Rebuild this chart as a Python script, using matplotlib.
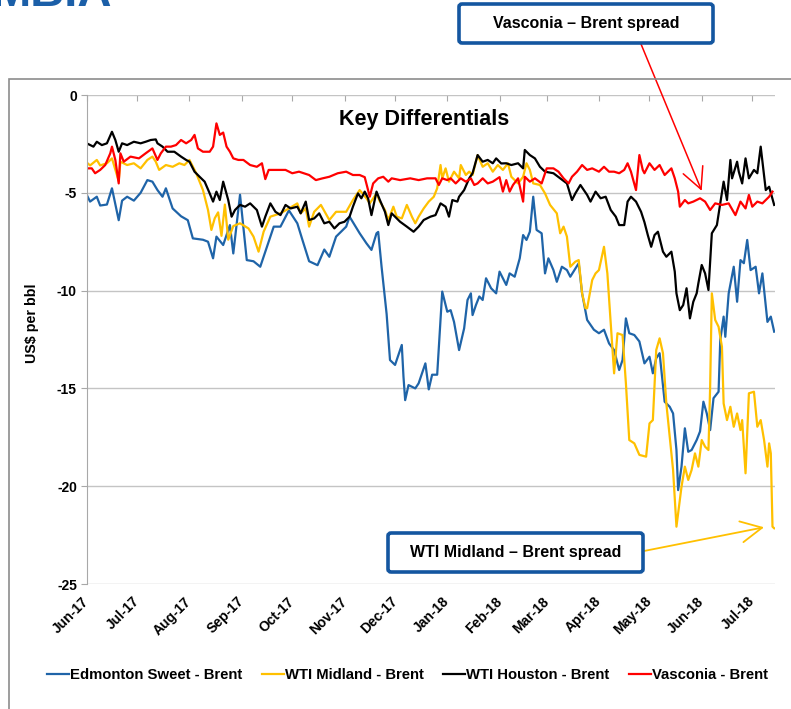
import matplotlib
matplotlib.use("Agg")
import matplotlib.pyplot as plt
import matplotlib.dates as mdates
from matplotlib.patches import Rectangle, FancyBboxPatch
import pandas as pd

plt.rcParams['font.family'] = ['Liberation Sans', 'DejaVu Sans']
plt.rcParams['axes.unicode_minus'] = False

# series as (days since 1 Jun 2017, US$/bbl)
start = pd.Timestamp('2017-06-01')

edm_days = [0, 2, 6, 8, 12, 15, 19, 21, 24, 28, 32, 36, 39, 42, 45, 47, 51, 56, 60, 63,
            69, 72, 75, 77, 81, 85, 87, 91, 95, 99, 103, 107, 111, 115, 120, 125, 128, 132,
            137, 141, 144, 148, 154, 156, 162, 166, 169, 172, 173, 175, 178, 180, 183, 187,
            188, 189, 191, 195, 197, 201, 203, 205, 208, 210, 211, 214, 216, 218, 221, 224,
            226, 228, 229, 231, 233, 235, 237, 240, 243, 245, 249, 251, 254, 257, 259, 261,
            263, 265, 267, 270, 272, 274, 277, 279, 282, 285, 287, 292, 294, 297, 301, 304,
            307, 310, 313, 316, 318, 320, 322, 325, 328, 331, 334, 336, 338, 340, 343, 346,
            348, 350, 351, 353, 355, 357, 359, 362, 364, 366, 368, 370, 372, 375, 376, 378,
            379, 381, 384, 386, 388, 390, 392, 394, 397, 399, 401, 404, 406, 408]
edm_vals = [-5.1, -5.45, -5.2, -5.65, -5.6, -4.77, -6.4, -5.4, -5.2, -5.4, -5.0, -4.35, -4.43,
            -4.86, -5.2, -4.77, -5.8, -6.2, -6.4, -7.33, -7.4, -7.5, -8.35, -7.24, -7.67, -6.65,
            -8.1, -5.1, -8.44, -8.5, -8.78, -7.76, -6.73, -6.73, -5.9, -6.56, -7.4, -8.5, -8.7,
            -7.9, -8.27, -7.24, -6.73, -6.22, -7.07, -7.58, -7.92, -7.07, -7.0, -8.78, -11.2,
            -13.55, -13.8, -12.78, -14.4, -15.6, -14.83, -15.0, -14.74, -13.72, -15.05, -14.3,
            -14.3, -11.5, -10.05, -11.08, -11.0, -11.6, -13.04, -11.93, -10.48, -10.14, -11.25,
            -10.74, -10.3, -10.48, -9.37, -9.88, -10.14, -9.03, -9.71, -9.12, -9.29, -8.35,
            -7.16, -7.41, -6.99, -5.2, -6.9, -7.07, -9.12, -8.35, -8.95, -9.55, -8.78, -8.95,
            -9.29, -8.6, -10.14, -11.5, -12.0, -12.18, -12.0, -12.7, -13.04, -14.06, -13.55,
            -11.42, -12.18, -12.27, -12.6, -13.72, -13.38, -14.23, -13.46, -13.2, -15.68,
            -15.94, -16.28, -18.15, -20.2, -19.0, -17.04, -18.24, -18.15, -17.64, -17.2, -15.68,
            -16.28, -17.13, -15.5, -15.17, -12.53, -11.33, -12.36, -10.14, -8.78, -10.57, -8.44,
            -8.6, -7.41, -8.95, -8.78, -10.14, -9.12, -11.6, -11.33, -12.1]

mid_days = [0, 2, 6, 8, 12, 15, 19, 20, 24, 28, 32, 36, 39, 41, 43, 47, 51, 55, 58, 61, 65,
            69, 72, 74, 76, 78, 80, 82, 84, 87, 91, 96, 99, 102, 105, 109, 115, 120, 125, 127,
            130, 132, 135, 139, 144, 148, 154, 158, 162, 166, 168, 172, 174, 177, 179, 182, 184,
            187, 190, 193, 195, 197, 200, 203, 206, 208, 210, 211, 213, 215, 218, 221, 222, 225,
            227, 229, 232, 235, 238, 241, 244, 247, 250, 252, 256, 259, 261, 263, 265, 269, 272,
            275, 279, 281, 283, 285, 287, 290, 292, 294, 296, 297, 300, 302, 304, 307, 309, 311,
            313, 315, 318, 320, 322, 325, 328, 332, 334, 336, 338, 340, 342, 344, 346, 348, 350,
            353, 355, 357, 359, 361, 363, 365, 367, 369, 370, 371, 373, 375, 377, 378, 380, 382,
            384, 386, 388, 389, 391, 393, 396, 398, 400, 402, 404, 405, 406, 407, 408]
mid_vals = [-3.45, -3.6, -3.32, -3.6, -3.49, -3.24, -4.4, -3.41, -3.58, -3.49, -3.75, -3.32,
            -3.15, -3.41, -3.83, -3.58, -3.67, -3.49, -3.58, -3.32, -4.0, -4.86, -5.88, -6.9,
            -6.3, -6.0, -7.2, -5.6, -7.4, -6.7, -6.56, -6.82, -7.24, -8.01, -6.99, -6.22, -6.05,
            -5.8, -5.54, -6.05, -5.8, -6.73, -5.97, -5.62, -6.39, -5.97, -5.97, -5.37, -4.86,
            -5.28, -5.54, -5.03, -5.45, -5.88, -6.39, -5.71, -6.22, -6.31, -5.62, -6.22, -6.56,
            -6.22, -5.8, -5.45, -5.2, -4.77, -3.58, -4.26, -3.75, -4.43, -3.92, -4.26, -3.58,
            -4.09, -3.92, -4.09, -3.07, -3.67, -3.49, -3.92, -3.58, -3.83, -3.49, -4.18, -4.52,
            -4.18, -3.49, -3.83, -4.52, -4.6, -5.03, -5.62, -6.05, -7.07, -6.73, -7.24, -8.78,
            -8.52, -8.44, -10.14, -10.9, -10.9, -9.46, -9.12, -8.95, -7.76, -9.12, -11.67,
            -14.23, -12.18, -12.27, -14.74, -17.64, -17.81, -18.4, -18.49, -16.79, -16.62,
            -13.04, -12.44, -13.2, -15.77, -17.47, -19.17, -22.07, -20.03, -19.0, -19.68,
            -19.17, -18.32, -19.0, -17.64, -17.98, -18.15, -14.91, -10.14, -11.5, -11.85,
            -12.87, -15.77, -16.62, -15.94, -16.96, -16.28, -17.13, -16.62, -19.34, -15.25,
            -15.17, -16.96, -16.62, -17.64, -19.0, -17.81, -18.32, -22.07, -22.15]

hou_days = [0, 4, 6, 9, 12, 15, 17, 19, 21, 24, 28, 32, 35, 38, 41, 42, 45, 48, 52, 56, 59,
            61, 64, 67, 70, 73, 75, 77, 79, 81, 84, 86, 88, 91, 94, 97, 101, 104, 106, 109, 112,
            115, 118, 121, 125, 127, 130, 132, 135, 138, 141, 144, 147, 150, 153, 156, 158, 161,
            163, 165, 167, 169, 172, 174, 177, 179, 181, 183, 186, 190, 194, 197, 200, 204, 207,
            210, 213, 215, 217, 220, 221, 224, 227, 229, 232, 235, 238, 241, 243, 246, 249, 252,
            256, 259, 260, 263, 266, 269, 272, 277, 281, 285, 288, 290, 293, 297, 299, 302, 305,
            308, 311, 314, 316, 319, 321, 323, 326, 329, 331, 333, 335, 337, 339, 342, 344, 347,
            349, 350, 352, 354, 356, 358, 360, 362, 363, 365, 367, 369, 371, 374, 376, 378, 380,
            382, 383, 386, 387, 389, 391, 393, 396, 398, 400, 403, 405, 408]
hou_vals = [-2.47, -2.64, -2.39, -2.56, -2.47, -1.88, -2.3, -2.9, -2.47, -2.56, -2.39, -2.47,
            -2.39, -2.3, -2.27, -2.47, -2.64, -2.9, -2.9, -3.15, -3.32, -3.41, -3.92, -4.18,
            -4.43, -5.03, -5.45, -4.94, -5.37, -4.43, -5.37, -6.22, -5.88, -5.62, -5.71, -5.54,
            -5.88, -6.73, -6.22, -5.54, -5.97, -6.14, -5.62, -5.8, -5.71, -6.05, -5.45, -6.39,
            -6.31, -6.05, -6.56, -6.48, -6.82, -6.56, -6.48, -6.22, -5.71, -5.03, -5.28, -4.94,
            -5.28, -6.14, -4.94, -5.37, -5.97, -6.65, -6.05, -6.22, -6.48, -6.73, -6.99, -6.73,
            -6.39, -6.22, -6.14, -5.54, -5.71, -6.22, -5.37, -5.45, -5.2, -4.86, -4.26, -4.0,
            -3.07, -3.41, -3.32, -3.49, -3.24, -3.5, -3.49, -3.58, -3.49, -3.75, -2.81, -3.07,
            -3.24, -3.67, -3.92, -4.0, -4.26, -4.52, -5.37, -5.03, -4.6, -5.11, -5.45, -4.94,
            -5.28, -5.2, -5.88, -6.22, -6.65, -6.65, -5.45, -5.2, -5.45, -5.97, -6.5, -7.16,
            -7.76, -7.16, -6.99, -8.01, -8.27, -8.01, -9.03, -10.14, -11.0, -10.74, -9.88,
            -11.42, -10.57, -10.14, -9.63, -8.69, -9.12, -9.97, -7.07, -6.65, -5.54, -4.43,
            -5.37, -3.32, -4.26, -3.41, -3.92, -4.52, -3.24, -4.26, -3.83, -4.0, -2.64, -4.86,
            -4.69, -5.62]

vas_days = [0, 3, 5, 8, 11, 14, 15, 17, 19, 20, 22, 26, 31, 35, 39, 42, 44, 47, 50, 53, 56,
            59, 62, 64, 66, 69, 73, 75, 77, 79, 81, 83, 85, 87, 90, 93, 97, 101, 104, 106, 108,
            112, 118, 122, 126, 132, 136, 140, 144, 149, 154, 158, 162, 165, 168, 170, 173, 176,
            179, 181, 186, 192, 197, 202, 207, 209, 211, 214, 216, 219, 222, 225, 228, 230, 232,
            235, 238, 241, 245, 247, 249, 251, 253, 256, 259, 260, 263, 266, 270, 273, 277, 280,
            283, 286, 288, 291, 294, 297, 300, 304, 307, 310, 313, 316, 319, 321, 323, 326, 328,
            330, 331, 334, 337, 340, 343, 345, 347, 349, 351, 352, 355, 357, 360, 364, 367, 370,
            373, 377, 381, 385, 388, 391, 393, 395, 398, 401, 405, 407]
vas_vals = [-3.75, -3.75, -4.0, -3.83, -3.58, -2.98, -2.64, -3.32, -4.52, -2.98, -3.41, -3.15,
            -3.24, -2.98, -2.73, -3.32, -2.98, -2.64, -2.64, -2.56, -2.3, -2.47, -2.3, -2.04,
            -2.73, -2.9, -2.9, -2.64, -1.45, -2.04, -1.92, -2.64, -2.9, -3.24, -3.32, -3.32,
            -3.58, -3.67, -3.49, -4.3, -3.83, -3.83, -3.83, -4.0, -3.92, -4.09, -4.35, -4.26,
            -4.18, -4.0, -3.92, -4.09, -4.09, -4.2, -5.2, -4.52, -4.26, -4.18, -4.43, -4.26,
            -4.35, -4.26, -4.35, -4.26, -4.26, -4.6, -4.26, -4.35, -4.26, -4.52, -4.26, -4.43,
            -4.26, -4.6, -4.52, -4.26, -4.52, -4.43, -4.2, -4.94, -4.35, -4.94, -4.6, -4.26,
            -5.45, -4.18, -4.43, -4.26, -4.52, -3.75, -3.75, -3.92, -4.26, -4.52, -4.18, -3.92,
            -3.58, -3.83, -3.75, -3.92, -3.67, -3.92, -3.92, -4.0, -3.83, -3.49, -3.92, -4.86,
            -3.07, -3.83, -4.0, -3.49, -3.83, -3.58, -4.09, -3.92, -3.75, -4.26, -4.94, -5.71,
            -5.37, -5.54, -5.45, -5.28, -5.45, -5.88, -5.54, -5.62, -5.54, -6.14, -5.45, -5.8,
            -5.11, -5.71, -5.45, -5.54, -5.2, -4.94]

series = [
    ('Edmonton Sweet - Brent', edm_days, edm_vals, '#1f64a8'),
    ('WTI Midland - Brent', mid_days, mid_vals, '#ffc000'),
    ('WTI Houston - Brent', hou_days, hou_vals, '#000000'),
    ('Vasconia - Brent', vas_days, vas_vals, '#ff0000'),
]

def to_dates(days):
    return start + pd.to_timedelta(days, unit='D')

fig = plt.figure(figsize=(7.91, 7.09), dpi=100)
ax = fig.add_axes([0.1096, 0.1763, 0.8702, 0.6897])

for name, d, v, c in series:
    ax.plot(to_dates(d), v, color=c, lw=1.6, label=name)

ax.set_xlim(start, start + pd.Timedelta(days=408.5))
ax.set_ylim(-25, 0)
ax.set_yticks([0, -5, -10, -15, -20, -25])
ax.grid(axis='y', color='#c4c4c4', lw=1)
ax.set_axisbelow(True)
for s in ['top', 'right', 'bottom']:
    ax.spines[s].set_visible(False)
ax.spines['left'].set_color('#a8a8a8')
ax.spines['left'].set_linewidth(0.8)

ax.xaxis.set_major_locator(mdates.MonthLocator())
ax.xaxis.set_major_formatter(mdates.DateFormatter('%b-%y'))
ax.tick_params(axis='x', top=True, bottom=False, direction='in', length=4,
               color='#a8a8a8', pad=11, labelsize=10)
ax.tick_params(axis='y', direction='out', length=4, color='#a8a8a8', labelsize=10, pad=3)
for lab in ax.get_xticklabels():
    lab.set_rotation(45)
    lab.set_ha('right')
    lab.set_va('center')
    lab.set_rotation_mode('anchor')
    lab.set_fontweight('bold')
for lab in ax.get_yticklabels():
    lab.set_fontweight('bold')

ax.set_ylabel('US$ per bbl', fontsize=10.3, fontweight='bold')
ax.yaxis.set_label_coords(-0.0795, 0.534)
ax.yaxis.label.set_va('center')
ax.text(0.49, 0.95, 'Key Differentials', transform=ax.transAxes, ha='center', va='center',
        fontsize=15.5, fontweight='bold')

fig.legend(loc='center', bbox_to_anchor=(0.515, 0.048), ncol=4, frameon=False,
           handlelength=1.5, handletextpad=0.05, columnspacing=1.3,
           prop={'size': 10.7, 'weight': 'bold'})

# outer frame and cut-off logo
W, H = 791, 709
fig.patches.append(Rectangle((9 / W, -0.1), 1.2, 1.1 - 79 / H, transform=fig.transFigure,
                             fill=False, ec='#8c8c8c', lw=1.2))
fig.text(-8 / W, 1 - 6 / H, 'MBIA', color='#1b5fa8', fontsize=34, fontweight='bold',
         ha='left', va='baseline')

# callout boxes
box_ec = '#1456a0'
for (x0, y0, x1, y1, txt) in [(459, 4, 713, 43, 'Vasconia – Brent spread'),
                              (388, 533, 643, 572, 'WTI Midland – Brent spread')]:
    fig.patches.append(FancyBboxPatch((x0 / W, 1 - y1 / H), (x1 - x0) / W, (y1 - y0) / H,
                                      boxstyle='round,pad=0,rounding_size=0.004',
                                      transform=fig.transFigure, fc='white', ec=box_ec,
                                      lw=2.6, zorder=5))
    fig.text((x0 + x1) / 2 / W, 1 - (y0 + y1) / 2 / H, txt, ha='center', va='center',
             fontsize=11.5, fontweight='bold', zorder=6)

ax.annotate('', xy=(to_dates([365])[0], -4.9), xycoords='data',
            xytext=(641 / W, 1 - 44 / H), textcoords='figure fraction',
            arrowprops=dict(arrowstyle='->', color='#ff0000', lw=1.1, mutation_scale=38,
                            shrinkA=0, shrinkB=0), annotation_clip=False)
ax.annotate('', xy=(to_dates([402])[0], -22.1), xycoords='data',
            xytext=(644 / W, 1 - 551 / H), textcoords='figure fraction',
            arrowprops=dict(arrowstyle='->', color='#ffc000', lw=1.3, mutation_scale=38,
                            shrinkA=0, shrinkB=0), annotation_clip=False)

fig.savefig('out.png', dpi=100)
